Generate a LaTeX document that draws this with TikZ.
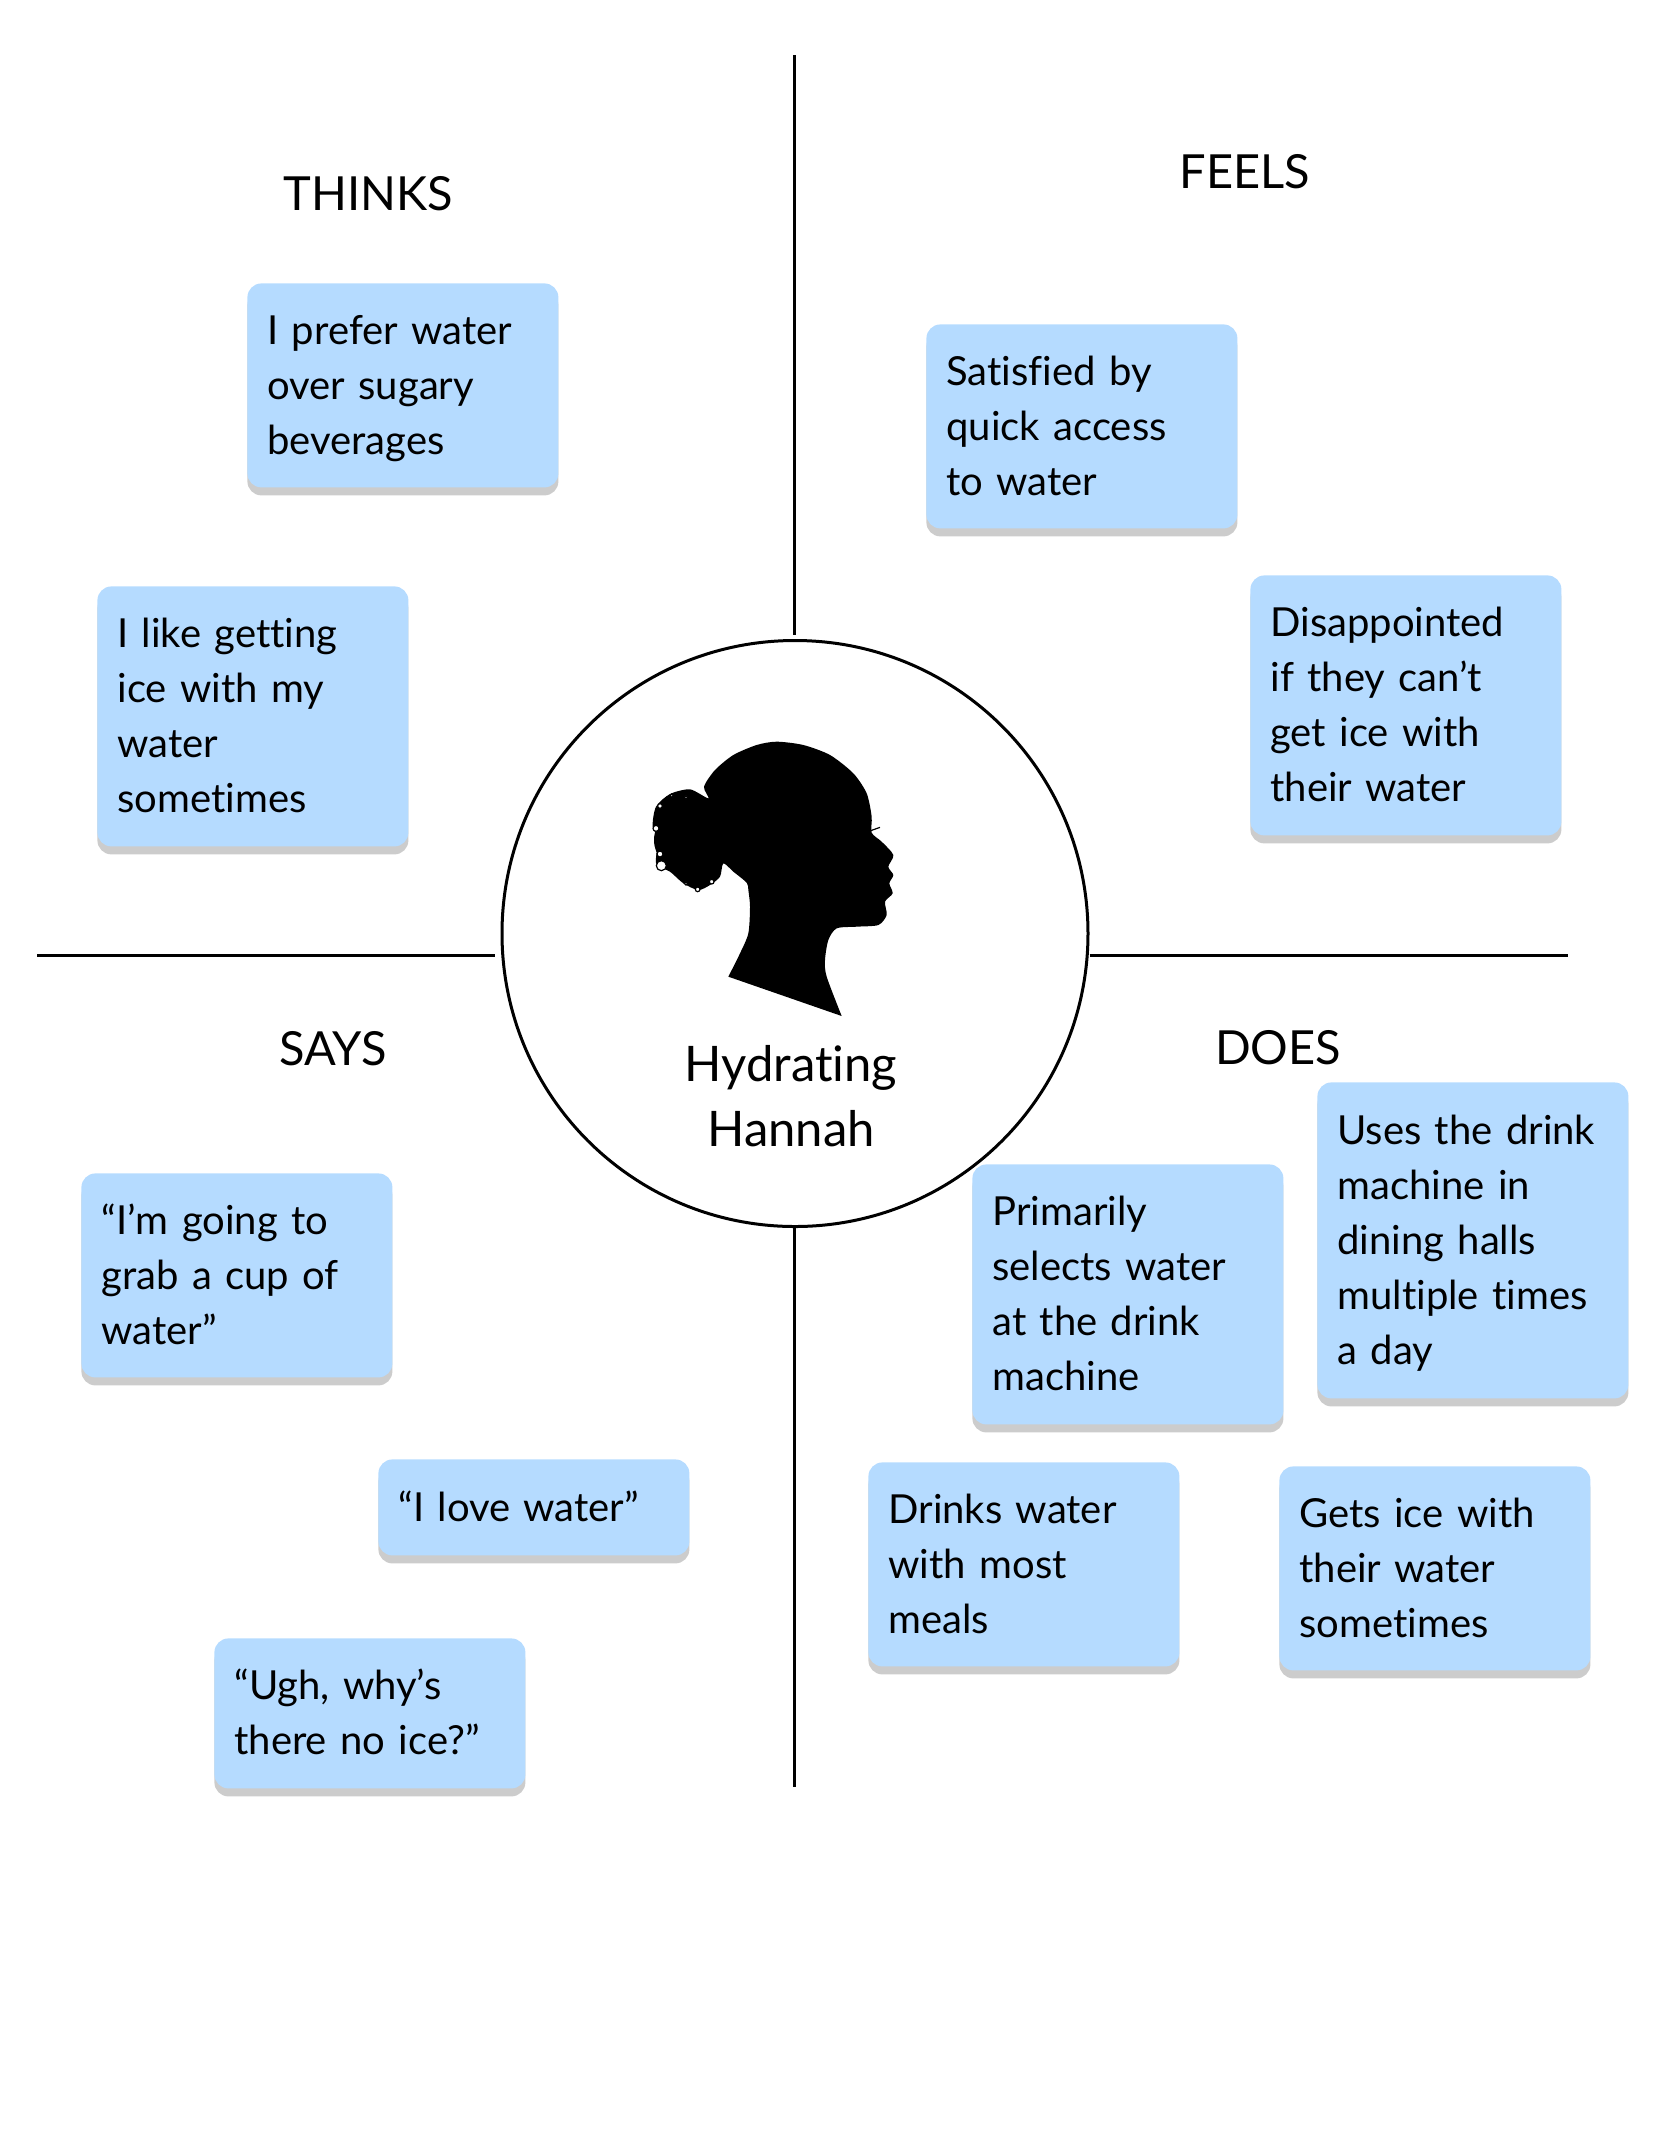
\documentclass[tikz,border=0pt]{standalone}
\usepackage{fontspec}
\setmainfont[Ligatures=NoCommon]{Lato}
\usetikzlibrary{shadows}
\definecolor{noteblue}{HTML}{B5DBFF}
\newcommand{\notestrut}{\rule[-6.75pt]{0pt}{27.5pt}}
\tikzset{
  basic/.style  = {font=\fontsize{20}{27.5}\selectfont, align=left, inner sep=0pt},
  note/.style   = {basic, anchor=north west, fill=noteblue, rounded corners=7pt, text width=135.5pt, inner xsep=10pt,
                   execute at begin node=\notestrut, execute at end node=\notestrut,
                   drop shadow={shadow xshift=0pt, shadow yshift=-4pt, fill=black!20, opacity=1}},
  heading/.style = {basic, font=\fontsize{23.5}{30}\selectfont, anchor=center},
  hub/.style    = {draw, circle, line width=1.5pt, minimum size=293pt, inner sep=0pt},
  rule/.style   = {line width=1.5pt}
}
\begin{document}
\begin{tikzpicture}[x=0.5pt,y=-0.5pt]
    \useasboundingbox (0,0) rectangle (1668,2154);

    % the circle in the middle
    \node[hub] (hub) at (795,933.5) {};
    \node[basic, font=\fontsize{24.5}{32.5}\selectfont, align=center] (name) at (791,1096) {Hydrating\\Hannah};

    % the four arms
    \coordinate (topend) at (794,55);
    \coordinate (bottomend) at (794,1787);
    \coordinate (leftend) at (37,955);
    \coordinate (rightend) at (1568,955);
    \draw[rule, shorten >=2.25pt] (topend) -- (topend |- hub.north);
    \draw[rule] (bottomend |- hub.south) -- (bottomend);
    \draw[rule, shorten >=3pt] (leftend) -- (leftend -| hub.west);
    \draw[rule] (rightend -| hub.east) -- (rightend);

    % the head, in units of a third of a pixel
    \begin{scope}[shift={(600,700)},x=0.16667pt,y=-0.16667pt]
      \fill plot[smooth, tension=0.45] coordinates {(385,830) (420,760) (445,700) (450,620) (445,570) (440,548) (400,515)
        (370,490) (360,530) (330,555) (295,570) (250,550) (210,515) (170,495) (170,455) (178,420) (158,380) (168,320)
        (210,282) (270,268) (325,295) (312,260) (345,210) (400,165) (470,135) (530,125) (610,135) (690,165) (760,220)
        (800,280) (815,350) (815,398) (845,425) (880,465) (865,500) (880,525) (868,550) (878,580) (855,605) (860,645)
        (835,675) (770,680) (710,685) (685,720) (675,780) (680,830) (725,948)} -- cycle;
      \draw[line width=0.6pt] (812,392) -- (840,382);
      \fill (250,420) circle[radius=88];
      \foreach \curlx/\curly/\curlr in {184/497/15,180/462/9,293/568/7,335/545/7,258/550/5,215/287/5,258/292/5,180/318/7,168/385/9}
        \draw[line width=0.6pt, fill=white] (\curlx,\curly) circle[radius=\curlr];
    \end{scope}

    % thinks
    \node[heading] (thinks) at (368,194) {THINKS};
    \node[note, minimum height=102pt] (t1) at (247,283) {I prefer water\\over sugary\\beverages};
    \node[note, minimum height=130pt] (t2) at (97,586) {I like getting\\ice with my\\water\\sometimes};

    % feels
    \node[heading] (feels) at (1245,172) {FEELS};
    \node[note, minimum height=102pt] (f1) at (926,324) {Satisfied by\\quick access\\to water};
    \node[note, minimum height=130pt] (f2) at (1250,575) {Disappointed\\if they can’t\\get ice with\\their water};

    % says
    \node[heading] (says) at (333,1049) {SAYS};
    \node[note, minimum height=102pt] (s1) at (81,1173) {“I’m going to\\grab a cup of\\water”};
    \node[note, minimum height=48pt] (s2) at (378,1459) {“I love water”};
    \node[note, minimum height=75pt] (s3) at (214,1638) {“Ugh, why’s\\there no ice?”};

    % does
    \node[heading] (does) at (1278,1048) {DOES};
    \node[note, minimum height=158pt] (d1) at (1317,1082) {Uses the drink\\machine in\\dining halls\\multiple times\\a day};
    \node[note, minimum height=130pt] (d2) at (972,1164) {Primarily\\selects water\\at the drink\\machine};
    \node[note, minimum height=102pt] (d3) at (868,1462) {Drinks water\\with most\\meals};
    \node[note, minimum height=102pt] (d4) at (1279,1466) {Gets ice with\\their water\\sometimes};
\end{tikzpicture}
\end{document}
